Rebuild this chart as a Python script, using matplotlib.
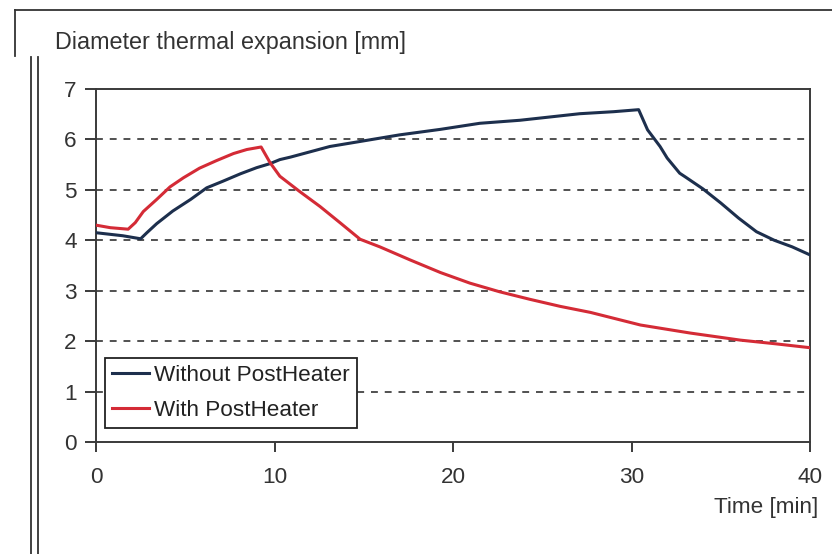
import matplotlib
matplotlib.use("Agg")
import matplotlib.pyplot as plt
from matplotlib.lines import Line2D

plt.rcParams['font.family'] = ['Liberation Sans', 'DejaVu Sans']

# ---- data ----
t_without = [0, 1.5, 2.5, 2.85, 3.4, 4.3, 5.3, 6.2, 7.1, 8.1, 9.0, 9.75, 10.3, 10.9,
             13.1, 14.8, 17.0, 19.3, 21.5, 23.75, 27.1, 29.0, 30.4, 30.9, 31.6, 32.0,
             32.7, 33.0, 34.0, 35.0, 36.0, 37.0, 38.0, 39.0, 40.0]
v_without = [4.15, 4.09, 4.03, 4.15, 4.33, 4.58, 4.81, 5.04, 5.17, 5.32, 5.44, 5.52, 5.60, 5.65,
             5.86, 5.96, 6.09, 6.20, 6.32, 6.38, 6.51, 6.55, 6.59, 6.19, 5.86, 5.63,
             5.33, 5.26, 5.02, 4.74, 4.44, 4.17, 4.00, 3.87, 3.71]

t_with = [0, 0.8, 1.8, 2.2, 2.65, 3.4, 4.15, 4.9, 5.8, 6.75, 7.7, 8.45, 9.25, 9.75, 10.3,
          11.4, 12.55, 13.7, 14.8, 15.9, 17.6, 19.3, 20.95, 22.6, 24.3, 26.0, 27.7, 30.5,
          33.3, 36.1, 38.0, 40.0]
v_with = [4.30, 4.25, 4.22, 4.35, 4.57, 4.81, 5.06, 5.24, 5.43, 5.58, 5.72, 5.80, 5.85, 5.54, 5.27,
          4.97, 4.67, 4.34, 4.02, 3.87, 3.61, 3.36, 3.15, 2.98, 2.83, 2.69, 2.57, 2.32,
          2.16, 2.02, 1.95, 1.87]

series_labels = ["Without PostHeater", "With PostHeater"]
x_ticks = [0, 10, 20, 30, 40]
y_ticks = [0, 1, 2, 3, 4, 5, 6, 7]
y_title = "Diameter thermal expansion [mm]"
x_title = "Time [min]"

FS = 16.2
W, H = 832, 554
fig = plt.figure(figsize=(W / 100, H / 100), dpi=100)
fig.patch.set_facecolor('white')

ax = fig.add_axes([96 / W, 1 - 442 / H, (810 - 96) / W, (442 - 89) / H])

blue = '#1d2f4d'
red = '#d42b36'
ax.plot(t_without, v_without, color=blue, lw=2.2, label=series_labels[0], zorder=3)
ax.plot(t_with, v_with, color=red, lw=2.2, label=series_labels[1], zorder=3)

ax.set_xlim(0, 40)
ax.set_ylim(0, 7)
ax.set_xticks(x_ticks)
ax.set_yticks(y_ticks)
for y in y_ticks[1:-1]:
    ax.axhline(y, color='#222222', lw=1.1, ls=(0, (4.5, 4.5)), zorder=1)

for s in ax.spines.values():
    s.set_color('#3a3a3a')
    s.set_linewidth(1.4)

ax.tick_params(axis='x', direction='out', length=7, width=1.4, color='#3a3a3a',
               labelsize=FS, pad=11, labelcolor='#333333')
ax.tick_params(axis='y', direction='out', length=8, width=1.4, color='#3a3a3a',
               labelsize=FS, pad=6, labelcolor='#333333')

leg = ax.legend(loc='lower left', bbox_to_anchor=(0.0126, 0.0397), fontsize=FS,
                frameon=True, fancybox=False, framealpha=1, edgecolor='#222222',
                handlelength=1.65, handletextpad=0.25, borderpad=0.3, labelspacing=0.64,
                borderaxespad=0)
leg.get_frame().set_linewidth(1.3)
for txt in leg.get_texts():
    txt.set_color('#222222')

fig.text(55 / W, 1 - 43 / H, y_title, fontsize=FS + 0.6, color='#333333',
         ha='left', va='center')
fig.text(818 / W, 1 - 508 / H, x_title, fontsize=FS, color='#333333',
         ha='right', va='center')

# window frame decorations from the screenshot
def fl(x0, y0, x1, y1, c='#333333', lw=1.3):
    fig.add_artist(Line2D([x0 / W, x1 / W], [1 - y0 / H, 1 - y1 / H], color=c, lw=lw))

fl(15, 10, 832, 10)
fl(15, 10, 15, 56)
fl(31, 57, 31, 554)
fl(38, 57, 38, 554)

fig.savefig('out.png', dpi=100)
